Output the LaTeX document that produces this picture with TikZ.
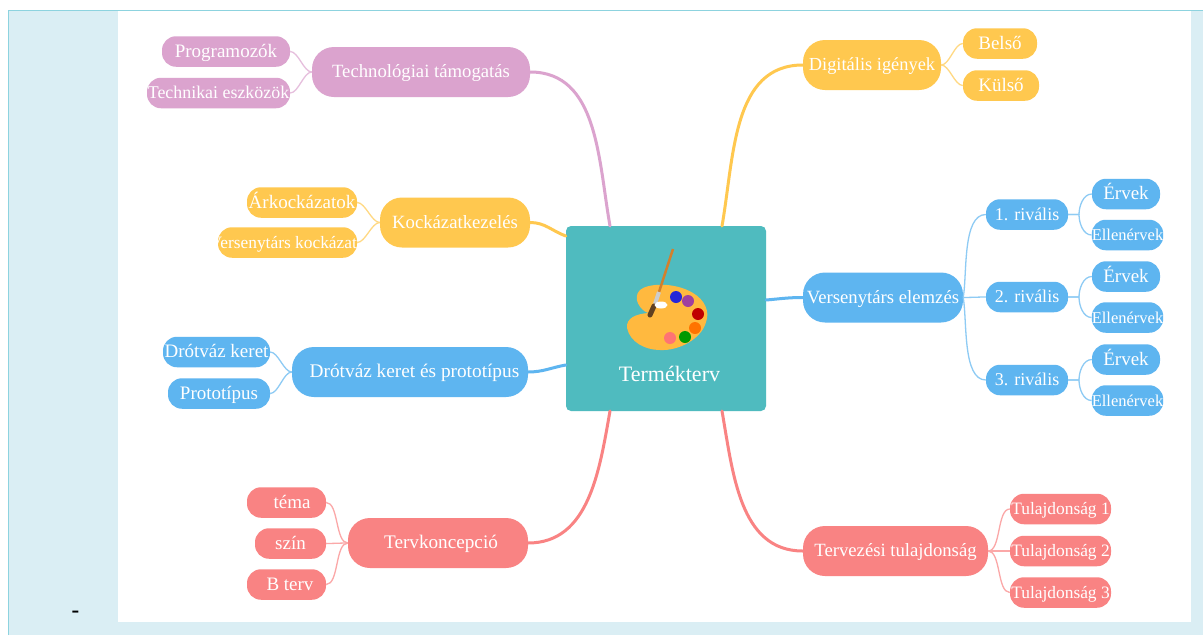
\documentclass[tikz,border=0pt]{standalone}
\usepackage{fontspec}
\setmainfont{Liberation Serif}
\definecolor{pagecol}{HTML}{DAEEF4}
\definecolor{framecol}{HTML}{8DD3DF}
\definecolor{cencol}{HTML}{4FBBBF}
\definecolor{pinkcol}{HTML}{DBA3CE}
\definecolor{yellcol}{HTML}{FFC84F}
\definecolor{bluecol}{HTML}{5EB5F0}
\definecolor{redcol}{HTML}{F98383}
\tikzset{
  mainbox/.style = { fill=#1, rounded corners=22pt, minimum height=50pt, inner sep=0pt,
                     text=white, text height=16pt, text depth=5pt, fs=18.7, anchor=center },
   subbox/.style = { fill=#1, rounded corners=14pt, minimum height=30.5pt, inner sep=0pt,
                     text=white, text height=16pt, text depth=5pt, fs=19, anchor=center },
       fs/.style = { font=\fontsize{#1}{#1}\selectfont },
     bold/.style = { draw=#1, line width=3pt, line cap=round },
     thin/.style = { draw=#1!70, line width=1.3pt, out=180, in=0, looseness=0.7 },
    right/.style = { draw=#1!70, line width=1.3pt, out=0, in=180, looseness=0.7 },
}

\begin{document}
\begin{tikzpicture}[x=1pt,y=-1pt]
  \path [use as bounding box, fill=white] (0,0) rectangle (1203,635);
  \fill [pagecol] (8,10) rectangle (1203,635);
  \draw [framecol, line width=1pt] (8,635) -- (8,10) -- (1203,10);
  \fill [white] (118,11) rectangle (1191,622);
  \node (dash) [fs=23] at (75.5,614) {\bfseries -};

  % centre
  \node (cen) [fill=cencol, rounded corners=5pt, minimum width=200pt, minimum height=185pt,
    inner sep=0pt] at (666,318.5) {};
  \node (cenlabel) [text=white, fs=22] at (669.5,374) {Termékterv};
  \coordinate (cenTL) at (610,226);
  \coordinate (cenTR) at (722,226);
  \coordinate (cenBL) at (610,411);
  \coordinate (cenBR) at (722,411);

  % palette
  \fill [yellcol!80!orange] (640,290) .. controls (648,283) and (675,282) .. (693,293)
    .. controls (705,300) and (710,312) .. (706,322)
    .. controls (702,338) and (680,351) .. (660,350)
    .. controls (645,350) and (630,342) .. (627,328)
    .. controls (626,318) and (636,314) .. (648,313)
    .. controls (640,310) and (632,298) .. (640,290) -- cycle;
  \draw [brown!70!orange, line width=2.5pt] (673,249) -- (659,292);
  \draw [gray!40, line width=4pt] (659,292) -- (655,304);
  \draw [brown!50!black, line width=5pt, line cap=round] (654,306) -- (650,315);
  \fill [white] (661,305) ellipse (6.5pt and 3.5pt);
  \foreach \x/\y/\c in {676/297/blue!70!gray, 688/301/violet!75, 698/314/red!75!black,
    695/328/orange!90!red, 685/337/green!60!black, 670/338/pink!60!red} {
    \fill [\c] (\x,\y) circle (6pt);
  }

  % left side
  \node (tech) [mainbox=pinkcol, minimum width=218pt] at (421,72) {Technológiai támogatás};
  \node (tech1) [subbox=pinkcol, minimum width=128pt] at (226,51.5) {Programozók};
  \node (tech2) [subbox=pinkcol, minimum width=143pt, fs=17.9] at (218.5,93) {Technikai eszközök};
  \node (risk) [mainbox=yellcol, minimum width=150pt] at (455,222.5) {Kockázatkezelés};
  \node (risk1) [subbox=yellcol, minimum width=110pt] at (302,202.5) {Árkockázatok};
  \node (risk2) [subbox=yellcol, minimum width=139pt, fs=17.4] at (287.5,242.5)
    {\makebox[139pt][r]{Versenytárs kockázat}};
  \node (wire) [mainbox=bluecol, minimum width=236pt, fs=19.3] at (410,372)
    {\hspace{9pt}Drótváz keret és prototípus};
  \node (wire1) [subbox=bluecol, minimum width=107pt] at (216.5,352) {Drótváz keret};
  \node (wire2) [subbox=bluecol, minimum width=102pt] at (219,393.5) {Prototípus};
  \node (plan) [mainbox=redcol, minimum width=180pt, fs=19.2] at (438,543) {\hspace{6pt}Tervkoncepció};
  \node (plan1) [subbox=redcol, minimum width=79pt] at (286.5,502.5) {\hspace{11pt}téma};
  \node (plan2) [subbox=redcol, minimum width=71pt] at (290.5,543.5) {szín};
  \node (plan3) [subbox=redcol, minimum width=79pt] at (286.5,584.5) {\hspace{7pt}B terv};

  % right side
  \node (digi) [mainbox=yellcol, minimum width=138pt, fs=18.4] at (872,65) {Digitális igények\hspace{6pt}};
  \node (digi1) [subbox=yellcol, minimum width=74pt] at (1000,43.5) {Belső};
  \node (digi2) [subbox=yellcol, minimum width=76pt] at (1001,85.5) {Külső};
  \node (riv) [mainbox=bluecol, minimum width=160pt] at (883,297.5) {Versenytárs elemzés};
  \foreach \i/\y in {1/214.5,2/297,3/380} {
    \node (riv\i) [subbox=bluecol, minimum width=82pt, fs=18] at (1027,\y) {\i. rivális};
    \node (pro\i) [subbox=bluecol, minimum width=68pt] at (1126,\y-20.5) {Érvek};
    \node (con\i) [subbox=bluecol, minimum width=71pt, fs=16.5] at (1127.5,\y+20.5) {Ellenérvek};
    \coordinate (fork\i) at (1079,\y);
    \draw [right=bluecol] (riv\i.east) -- (fork\i) to [out=90, looseness=0.9] (pro\i.west);
    \draw [right=bluecol] (riv\i.east) -- (fork\i) to [out=-90, looseness=0.9] (con\i.west);
  }
  \node (prop) [mainbox=redcol, minimum width=185pt] at (895.5,551) {Tervezési tulajdonság};
  \foreach \i/\y in {1/509,2/551,3/592.5} {
    \node (prop\i) [subbox=redcol, minimum width=101pt, fs=17.4] at (1060.5,\y) {Tulajdonság \i};
    \draw [right=redcol] (prop.east) to (prop\i.west);
  }

  % links
  \foreach \a/\b/\c in {tech/tech1/pinkcol,tech/tech2/pinkcol,risk/risk1/yellcol,risk/risk2/yellcol,
    wire/wire1/bluecol,wire/wire2/bluecol,plan/plan1/redcol,plan/plan2/redcol,plan/plan3/redcol} {
    \draw [thin=\c] (\a.west) to (\b.east);
  }
  \foreach \a/\b in {digi1/digi2} {
    \draw [right=yellcol] (digi.east) to (\a.west);
    \draw [right=yellcol] (digi.east) to (\b.west);
  }
  \draw [right=bluecol, out=80] (riv.east) to (riv1.west);
  \draw [right=bluecol] (riv.east) to (riv2.west);
  \draw [right=bluecol, out=-80] (riv.east) to (riv3.west);

  \draw [bold=pinkcol] (tech.east) to [out=0, in=100] (cenTL);
  \draw [bold=yellcol] (risk.east) to [out=0, in=160] (cen.west |- 0,236);
  \draw [bold=bluecol] (wire.east) to [out=0, in=190] (cen.west |- 0,365);
  \draw [bold=redcol] (plan.east) to [out=0, in=260] (cenBL);
  \draw [bold=yellcol] (digi.west) to [out=180, in=80] (cenTR);
  \draw [bold=bluecol] (riv.west) to [out=180, in=5] (cen.east |- 0,300);
  \draw [bold=redcol] (prop.west) to [out=180, in=280] (cenBR);
\end{tikzpicture}
\end{document}
